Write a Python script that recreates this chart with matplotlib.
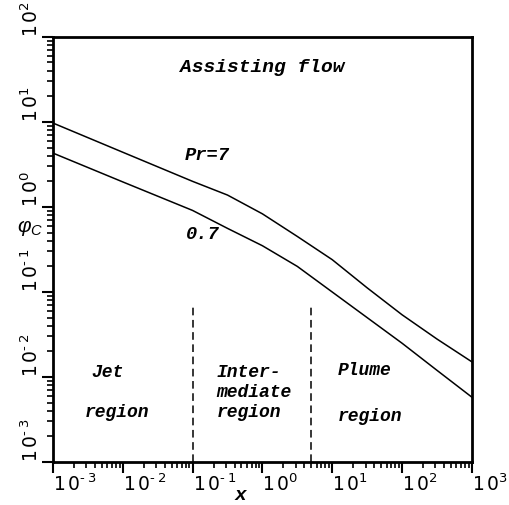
import matplotlib
matplotlib.use("Agg")
import matplotlib.pyplot as plt
from matplotlib.ticker import LogLocator, NullFormatter

plt.rcParams['mathtext.fontset'] = 'custom'
plt.rcParams['mathtext.rm'] = 'Liberation Sans'
plt.rcParams['mathtext.it'] = 'Liberation Sans:italic'

# curves (x, phi_c)
x_pts = [1e-3, 1e-2, 1e-1, 10**-0.5, 1.0, 10**0.5, 10.0, 10**1.5, 100.0, 10**2.5, 1000.0]
phi_pr7 = [9.7, 4.4, 2.0, 1.38, 0.83, 0.45, 0.24, 0.112, 0.054, 0.028, 0.0151]
phi_pr07 = [4.3, 1.97, 0.91, 0.56, 0.35, 0.20, 0.10, 0.050, 0.025, 0.012, 0.0058]

region_bounds = [0.1, 5.0]
x_ticks = [1e-3, 1e-2, 1e-1, 1e0, 1e1, 1e2, 1e3]
x_tick_labels = ['\u2010\u20093', '\u2010\u20092', '\u2010\u20091', '0', '1', '2', '3']
y_ticks = [1e-3, 1e-2, 1e-1, 1e0, 1e1, 1e2]
y_tick_labels = ['\u2010\u20093', '\u2010\u20092', '\u2010\u20091', '0', '1', '2']

annot_font = dict(family='Liberation Mono', weight='bold', style='italic')

fig = plt.figure(figsize=(5.09, 5.05), dpi=100)
ax = fig.add_axes([0.104, 0.085, 0.823, 0.842])

ax.plot(x_pts, phi_pr7, color='black', lw=1.1)
ax.plot(x_pts, phi_pr07, color='black', lw=1.1)
for xb in region_bounds:
    ax.plot([xb, xb], [1e-3, 0.07], color='black', lw=1.1, ls=(0, (5, 3)))

ax.set_xscale('log')
ax.set_yscale('log')
ax.set_xlim(1e-3, 1e3)
ax.set_ylim(1e-3, 1e2)

def pow_labels(exps):
    return [r'$\mathregular{1\,0^{%s}}$' % e for e in exps]

ax.set_xticks(x_ticks, pow_labels(x_tick_labels), ha='left', fontsize=13.5)
ax.set_yticks(y_ticks, pow_labels(y_tick_labels), rotation=90, va='bottom', fontsize=13.5)
ax.xaxis.set_minor_locator(LogLocator(base=10, subs=range(2, 10), numticks=20))
ax.yaxis.set_minor_locator(LogLocator(base=10, subs=range(2, 10), numticks=20))
ax.xaxis.set_minor_formatter(NullFormatter())
ax.yaxis.set_minor_formatter(NullFormatter())
ax.tick_params(which='major', direction='out', length=8, width=1.5)
ax.tick_params(which='minor', direction='out', length=4, width=1.2)
ax.tick_params(axis='x', which='major', pad=0)
ax.tick_params(axis='y', which='major', pad=0)
for s in ax.spines.values():
    s.set_linewidth(2)

ax.text(1.0, 44, 'Assisting flow', ha='center', va='center', fontsize=14, **annot_font)
ax.text(0.16, 4.0, 'Pr=7', ha='center', va='center', fontsize=13.5, **annot_font)
ax.text(0.14, 0.47, '0.7', ha='center', va='center', fontsize=13.5, **annot_font)
ax.text(0.0061, 0.0114, 'Jet', ha='center', va='center', fontsize=13, **annot_font)
ax.text(0.0083, 0.0038, 'region', ha='center', va='center', fontsize=13, **annot_font)
ax.text(0.22, 0.0114, 'Inter-', ha='left', va='center', fontsize=13, **annot_font)
ax.text(0.22, 0.0065, 'mediate', ha='left', va='center', fontsize=13, **annot_font)
ax.text(0.22, 0.0038, 'region', ha='left', va='center', fontsize=13, **annot_font)
ax.text(12.1, 0.012, 'Plume', ha='left', va='center', fontsize=13, **annot_font)
ax.text(12.1, 0.0034, 'region', ha='left', va='center', fontsize=13, **annot_font)

fig.text(30 / 509, 1 - 228 / 505, r'$\varphi_C$', ha='center', va='center', fontsize=15)
fig.text(240 / 509, 1 - 496 / 505, 'x', ha='center', va='center', fontsize=14, **annot_font)

fig.savefig('out.png', dpi=100)
